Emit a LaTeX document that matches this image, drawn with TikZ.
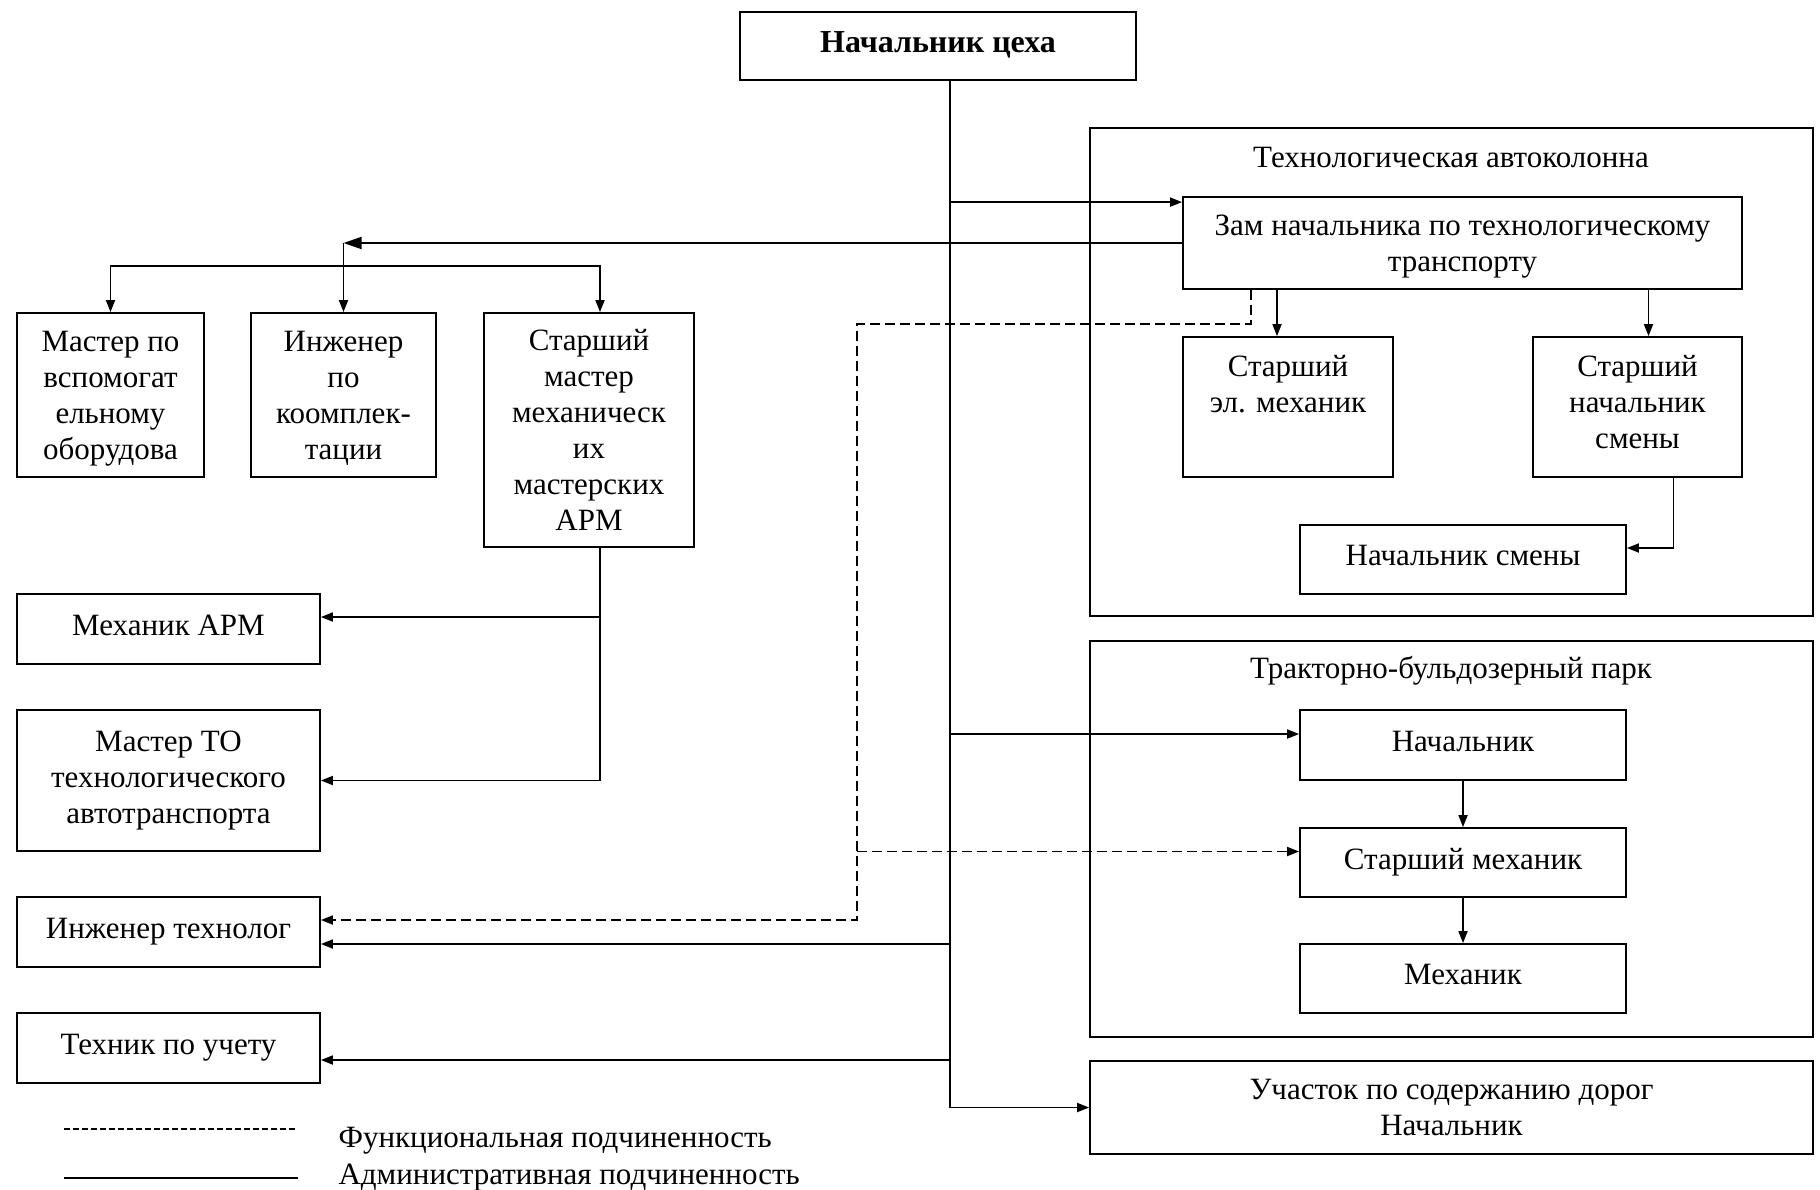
\documentclass[tikz,border=0pt]{standalone}
\usepackage{fontspec}
\setmainfont{Liberation Serif}
\usetikzlibrary{arrows.meta, positioning}

\begin{document}
\begin{tikzpicture}[x=0.5pt, y=-0.5pt, line width=0.9pt,
		font=\fontsize{15.5}{18}\selectfont,
		box/.style={draw, align=center, inner sep=2pt},
		oneline/.style={box, text depth=4pt},
		arr/.style={-{Triangle[length=6pt, width=4.5pt]}},
		func/.style={dash pattern=on 5pt off 2.5pt}]
				\useasboundingbox (0,0) rectangle (1820,1189);

				% Draw the head and the groups
				\node[oneline, minimum width=198pt, minimum height=34pt, font=\fontsize{16}{18}\selectfont\bfseries] (chief) at (938,46) {Начальник цеха};
				\node[box, minimum width=361.5pt, minimum height=244pt] (techGroup) at (1451.5,372) {};
				\node (techTitle) at (1451,157) {Технологическая автоколонна};
				\node[box, minimum width=361.5pt, minimum height=198pt] (tracGroup) at (1451.5,839) {};
				\node (tracTitle) at (1451,671) {Тракторно-бульдозерный парк};
				\node[box, minimum width=361.5pt, minimum height=46.5pt] (roadSite) at (1451.5,1107.5) {Участок по содержанию дорог\\Начальник};

				% Draw the left column
				\node[box, minimum width=93.5pt, minimum height=82pt, text depth=0pt] (masterAux) at (110.5,395) {Мастер по\\вспомогат\\ельному\\оборудова};
				\node[box, minimum width=92.5pt, minimum height=82pt, text depth=0pt] (engKit) at (343.5,395) {Инженер\\по\\коомплек-\\тации};
				\node[box, minimum width=105pt, minimum height=117pt] (srMaster) at (589,430) {Старший\\мастер\\механическ\\их\\мастерских\\АРМ};
				\node[oneline, minimum width=151.5pt, minimum height=35pt] (mechArm) at (168.5,629) {Механик АРМ};
				\node[box, minimum width=151.5pt, minimum height=70.5pt] (masterTO) at (168.5,780.5) {Мастер ТО\\технологического\\автотранспорта};
				\node[oneline, minimum width=151.5pt, minimum height=35pt] (engTech) at (168.5,932) {Инженер технолог};
				\node[oneline, minimum width=151.5pt, minimum height=35pt] (techAcc) at (168.5,1048) {Техник по учету};

				% Draw the right column
				\node[box, minimum width=279.5pt, minimum height=46pt, text depth=0pt] (zam) at (1462.5,243) {Зам начальника по технологическому\\транспорту};
				\node[box, minimum width=105pt, minimum height=70pt, text depth=5pt] (srElMech) at (1288,407) {Старший\\эл. механик\\~};
				\node[box, minimum width=104.5pt, minimum height=70pt, text depth=5pt] (srShiftHead) at (1637.5,407) {Старший\\начальник\\смены};
				\node[oneline, minimum width=163pt, minimum height=34.5pt] (shiftHead) at (1463,559.5) {Начальник смены};
				\node[oneline, minimum width=163pt, minimum height=35pt] (tracHead) at (1463,745) {Начальник};
				\node[oneline, minimum width=163pt, minimum height=34.5pt] (srMech) at (1463,862.5) {Старший механик};
				\node[oneline, minimum width=163pt, minimum height=34.5pt] (mech) at (1463,978.5) {Механик};

				% Administrative lines from the head
				\coordinate (trunk) at ([xshift=6pt]chief.south);
				\coordinate (zamIn) at ([yshift=-3pt]zam.north west);
				\coordinate (tracIn) at ([yshift=5.5pt]tracHead.west);
				\coordinate (engTechIn) at ([yshift=-6pt]engTech.east);
				\coordinate (techAccIn) at ([yshift=-6pt]techAcc.east);
				\draw[arr] (trunk) |- (roadSite.west);
				\draw[arr] (trunk |- zamIn) -- (zamIn);
				\draw[arr] (trunk |- tracIn) -- (tracIn);
				\draw[arr] (trunk |- engTechIn) -- (engTechIn);
				\draw[arr] (trunk |- techAccIn) -- (techAccIn);

				% Zam to the left group
				\coordinate (hub) at (engKit.north |- zam.west);
				\coordinate (fork) at ([yshift=23pt]engKit.north);
				\draw[-{Triangle[length=9pt, width=6pt]}] (zam.west) -- (hub);
				\draw[arr] (hub) -- (engKit.north);
				\draw[arr] (fork) -| (masterAux.north);
				\draw[arr] (fork) -| ([xshift=5.5pt]srMaster.north);

				% Senior master to workshop staff
				\coordinate (srMasterOut) at ([xshift=5.5pt]srMaster.south);
				\coordinate (mechArmIn) at ([yshift=6pt]mechArm.east);
				\draw[arr] (srMasterOut) |- (masterTO.east);
				\draw[arr] (srMasterOut |- mechArmIn) -- (mechArmIn);

				% Inside the technological column
				\coordinate (elIn) at ([xshift=-5.5pt]srElMech.north);
				\coordinate (shIn) at ([xshift=5.5pt]srShiftHead.north);
				\draw[arr] (elIn |- zam.south) -- (elIn);
				\draw[arr] (shIn |- zam.south) -- (shIn);
				\draw[arr] ([xshift=18pt]srShiftHead.south) |- ([yshift=5.75pt]shiftHead.east);

				% Inside the tractor park
				\draw[arr] (tracHead) -- (srMech);
				\draw[arr] (srMech) -- (mech);

				% Functional lines
				\coordinate (funcTop) at ([xshift=-105.75pt]zam.south);
				\coordinate (funcCorner) at (857,324);
				\coordinate (engTechFunc) at ([yshift=6pt]engTech.east);
				\coordinate (srMechFunc) at ([yshift=5.5pt]srMech.west);
				\draw[func, arr] (funcTop) |- (funcCorner) |- (engTechFunc);
				\draw[func, arr] (funcCorner |- srMechFunc) -- (srMechFunc);

				% Legend
				\node[anchor=west] (legFunc) at (331,1141) {Функциональная подчиненность};
				\node[anchor=west] (legAdm) at (331,1178) {Административная подчиненность};
				\draw[dash pattern=on 3pt off 1.5pt, line width=0.7pt] (64,1129) -- (298,1129);
				\draw (64,1178) -- (298,1178);

			\end{tikzpicture}
\end{document}
